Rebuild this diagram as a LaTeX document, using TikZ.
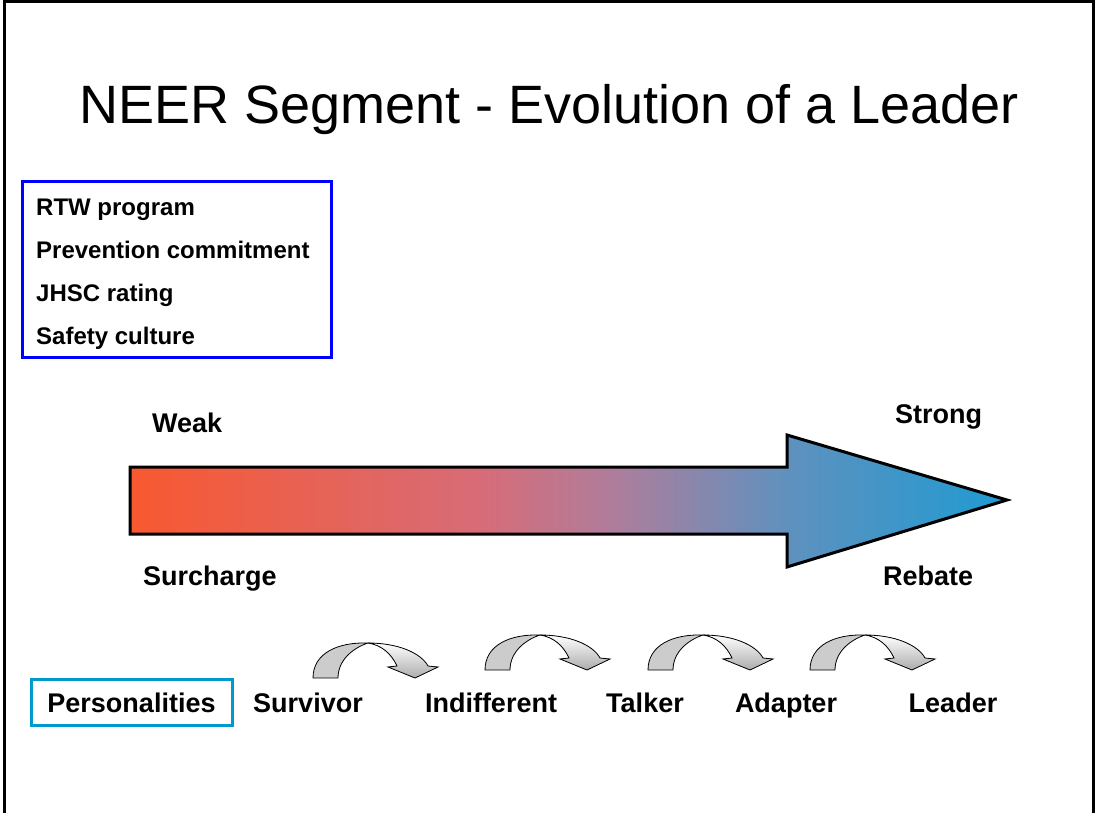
\documentclass[tikz,border=0pt]{standalone}
\usepackage{fontspec}
\setmainfont{Liberation Sans}
\usepackage{tikz}
\usetikzlibrary{arrows.meta}

\definecolor{warmred}{RGB}{248,88,48}
\definecolor{rosy}{RGB}{215,108,120}
\definecolor{mauve}{RGB}{175,125,155}
\definecolor{steel}{RGB}{95,145,190}
\definecolor{coolblue}{RGB}{30,155,210}
\definecolor{boxblue}{RGB}{0,0,255}
\definecolor{cyanbox}{RGB}{0,153,204}
\pgfdeclarehorizontalshading{leadershade}{100bp}{color(0bp)=(warmred); color(25bp)=(warmred);
	color(45bp)=(rosy); color(52.5bp)=(mauve); color(62.5bp)=(steel);
	color(75bp)=(coolblue); color(100bp)=(coolblue)}

\tikzset{
	turnarrow/.pic={
		\filldraw[fill=gray!40, draw=black, line width=0.8] (0,0) .. controls (0,-25) and (25,-36) .. (55,-35)
			.. controls (40,-30) and (25,-18) .. (25,0) -- cycle;
		\filldraw[top color=white, bottom color=gray!65, draw=black, line width=0.8] (55,-35)
			.. controls (85,-35) and (108,-25) .. (115,-12) -- (125,-11) -- (102,0) -- (75,-11) -- (84,-12)
			.. controls (78,-25) and (68,-33) .. (55,-35) -- cycle;
	}
}

\begin{document}
\begin{tikzpicture}[x=1pt, y=-1pt]
	\useasboundingbox (0,0) rectangle (1095,813);
	\draw[line width=3] (4,813) -- (4,1.5) -- (1093.5,1.5) -- (1093.5,813);

	\node[anchor=base, font=\fontsize{54}{60}\selectfont] (title) at (549,124) {NEER Segment - Evolution of a Leader};

	\begin{scope}[every node/.style={anchor=base west, inner sep=0pt, font=\fontsize{24}{28}\selectfont\bfseries}]
		\node (rtw) at (36,215.5) {RTW program};
		\node (prev) at (36,258.5) {Prevention commitment};
		\node (jhsc) at (36,301.5) {JHSC rating};
		\node (safety) at (36,344.5) {Safety culture};
	\end{scope}
	\draw[boxblue, line width=3] (22,182) rectangle (331,357);

	\draw[shading=leadershade, line width=3, line join=miter] (130,467) -- (787,467) -- (787,435) -- (1007,500)
		-- (787,567) -- (787,534) -- (130,534) -- cycle;

	\begin{scope}[every node/.style={anchor=base west, inner sep=0pt, font=\fontsize{27}{32}\selectfont\bfseries}]
		\node (weak) at (152,432) {Weak};
		\node (strong) at (895,423) {Strong};
		\node (surcharge) at (143,585) {Surcharge};
		\node (rebate) at (883,585) {Rebate};
	\end{scope}

	\begin{scope}[every node/.style={anchor=base, inner sep=0pt, font=\fontsize{27}{32}\selectfont\bfseries}]
		\node (pers) at (131.5,712) {Personalities};
		\node (survivor) at (308,712) {Survivor};
		\node (indiff) at (491,712) {Indifferent};
		\node (talker) at (645,712) {Talker};
		\node (adapter) at (786,712) {Adapter};
		\node (leader) at (953,712) {Leader};
	\end{scope}
	\draw[cyanbox, line width=3] (31,679) rectangle (232,725);

	\pic at (313,678) {turnarrow};
	\pic at (485,670) {turnarrow};
	\pic at (648,670) {turnarrow};
	\pic at (810,670) {turnarrow};

\end{tikzpicture}
\end{document}
